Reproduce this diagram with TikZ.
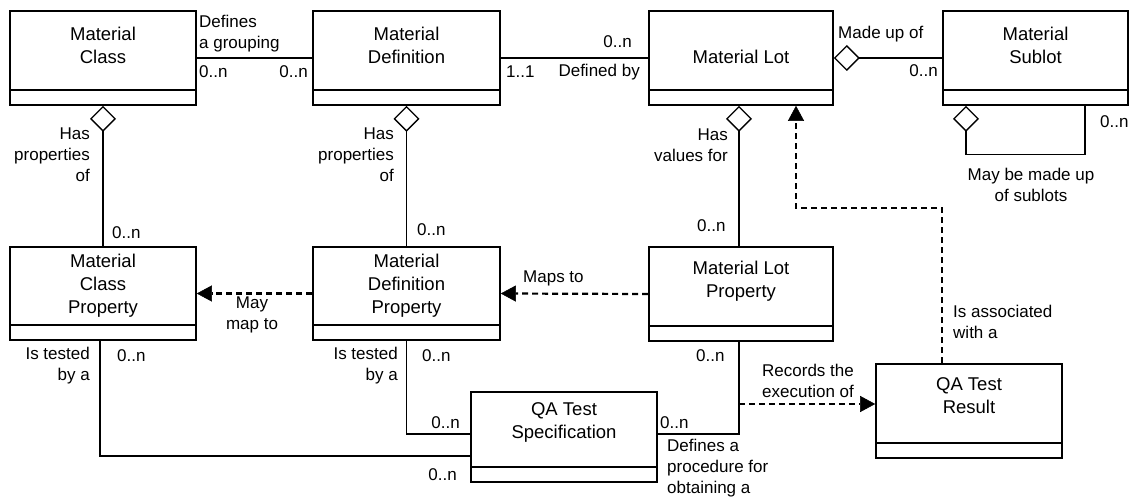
\documentclass[tikz,border=0pt]{standalone}
\usepackage{fontspec}
\setmainfont{Liberation Sans}
\usetikzlibrary{arrows.meta}
\begin{document}
\begin{tikzpicture}[x=1pt,y=-1pt,
  box/.style={draw, line width=1.6pt, inner sep=0pt},
  boxtext/.style={align=center, inner sep=0pt, font=\fontsize{18.5}{23}\selectfont},
  lbl/.style={inner sep=0pt, font=\fontsize{17}{21}\selectfont},
  conn/.style={line width=1.3pt},
  aggr/.style={conn, {Diamond[open,length=26pt,width=26pt,line width=1.3pt]}-},
  dep/.style={line width=2.2pt, dash pattern=on 6pt off 4pt, -{Triangle[length=15pt,width=16pt,line width=0.5pt]}}
]
\useasboundingbox (0,0) rectangle (1136,497);
% boxes
\node[box, minimum width=186pt, minimum height=94pt] (mc)  at (103,58) {};
\node[box, minimum width=187pt, minimum height=94pt] (md)  at (406.5,58) {};
\node[box, minimum width=184pt, minimum height=94pt] (ml)  at (741,58) {};
\node[box, minimum width=185pt, minimum height=94pt] (sub) at (1035.5,58) {};
\node[box, minimum width=186pt, minimum height=93pt] (mcp) at (103,293.5) {};
\node[box, minimum width=187pt, minimum height=93pt] (mdp) at (406.5,293.5) {};
\node[box, minimum width=184pt, minimum height=94pt] (mlp) at (741,294) {};
\node[box, minimum width=186pt, minimum height=90pt] (qas) at (564,437) {};
\node[box, minimum width=186pt, minimum height=94pt] (qar) at (969,411) {};
\foreach \b in {mc,md,ml,sub,mcp,mdp,mlp,qas,qar}
  \draw[line width=1.6pt] ([yshift=16pt]\b.south west) -- ([yshift=16pt]\b.south east);
% box names
\node[boxtext] at ([yshift=12.5pt]mc.center) {Material\\Class};
\node[boxtext] at ([yshift=12.5pt]md.center) {Material\\Definition};
\node[boxtext] at ([yshift=1pt]ml.center) {Material Lot};
\node[boxtext] at ([yshift=12.5pt]sub.center) {Material\\Sublot};
\node[boxtext] at ([yshift=7.5pt]mcp.center) {Material\\Class\\Property};
\node[boxtext] at ([yshift=7.5pt]mdp.center) {Material\\Definition\\Property};
\node[boxtext] at ([yshift=12.5pt]mlp.center) {Material Lot\\Property};
\node[boxtext] at ([yshift=14.5pt]qas.center) {QA Test\\Specification};
\node[boxtext] at ([yshift=15pt]qar.center) {QA Test\\Result};
% connectors
\draw[conn] (mc.east) -- (md.west);
\draw[conn] (md.east) -- (ml.west);
\draw[aggr] (ml.east) -- (sub.west);
\draw[aggr] ([xshift=-69.5pt]sub.south) -- ++(0,49) -| ([xshift=49.5pt]sub.south);
\draw[aggr] (mc.south) -- (mcp.north);
\draw[aggr] (md.south) -- (mdp.north);
\draw[aggr] ([xshift=-2pt]ml.south) -- ([xshift=-2pt]mlp.north);
\draw[dep] (mdp.west) -- (mcp.east);
\draw[dep] (mlp.west) -- (mdp.east);
\draw[conn] ([xshift=-3pt]mcp.south) |- ([yshift=-19pt]qas.west);
\draw[conn] (mdp.south) |- ([yshift=3pt]qas.west);
\draw[conn] ([xshift=-2pt]mlp.south) |- ([yshift=3pt]qas.east);
\coordinate (rec) at (739,404);
\draw[dep, line width=1.6pt] (rec) -- (rec -| qar.west);
\draw[dep] ([xshift=-27pt]qar.north) -- ++(0,-155) -| ([xshift=55pt]ml.south);
% labels
\node[lbl, anchor=west, align=left] at (199,34) {Defines\\a grouping};
\node[lbl, anchor=west] at (199,72) {0..n};
\node[lbl, anchor=east] at (308,72) {0..n};
\node[lbl, anchor=east] at (632,42) {0..n};
\node[lbl, anchor=west] at (506,72) {1..1};
\node[lbl, anchor=east] at (640,72) {Defined by};
\node[lbl, anchor=west] at (838,34) {Made up of};
\node[lbl, anchor=east] at (938,71) {0..n};
\node[lbl, anchor=west] at (1100,122) {0..n};
\node[lbl, align=center] at (1031,185) {May be made up\\of sublots};
\node[lbl, anchor=east, align=right] at (90,155) {Has\\properties\\of};
\node[lbl, anchor=west] at (112,233) {0..n};
\node[lbl, anchor=east, align=right] at (394,155) {Has\\properties\\of};
\node[lbl, anchor=west] at (417,230) {0..n};
\node[lbl, anchor=east, align=right] at (728,145) {Has\\values for};
\node[lbl, anchor=west] at (697,226) {0..n};
\node[lbl, align=center] at (252,315) {May\\map to};
\node[lbl, anchor=west] at (523,278) {Maps to};
\node[lbl, anchor=east, align=right] at (90,366) {Is tested\\by a};
\node[lbl, anchor=west] at (117,356) {0..n};
\node[lbl, anchor=east, align=right] at (398,366) {Is tested\\by a};
\node[lbl, anchor=west] at (422,356) {0..n};
\node[lbl, anchor=west] at (696,356) {0..n};
\node[lbl, anchor=east] at (460,423) {0..n};
\node[lbl, anchor=east] at (457,475) {0..n};
\node[lbl, anchor=west] at (660,423) {0..n};
\node[lbl, anchor=north west, align=left] at (667,439) {Defines a\\procedure for\\obtaining a};
\node[lbl, anchor=west, align=left] at (762,381) {Records the\\execution of};
\node[lbl, anchor=west, align=left] at (953,322) {Is associated\\with a};
\end{tikzpicture}
\end{document}
